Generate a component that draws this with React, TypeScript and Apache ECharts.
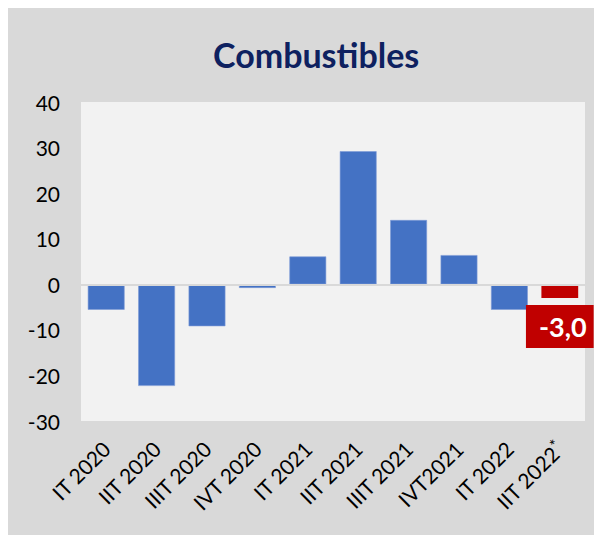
import React, { useEffect, useRef } from "react";
import * as echarts from "echarts";

const titleText = "Combustibles";
const categories = [
  "IT 2020",
  "IIT 2020",
  "IIIT 2020",
  "IVT 2020",
  "IT 2021",
  "IIT 2021",
  "IIIT 2021",
  "IVT2021",
  "IT 2022",
  "IIT 2022*",
];
const values = [-5.6, -22.3, -9.2, -0.8, 6.1, 29.2, 14.1, 6.4, -5.6, -3.0];
const highlightIndex = 9;
const yMin = -30;
const yMax = 40;
const yStep = 10;

const FONT = "Lato, 'Open Sans', sans-serif";

export default function App() {
  const ref = useRef<HTMLDivElement>(null);
  useEffect(() => {
    if (!ref.current) return;
    const chart = echarts.init(ref.current, null, { renderer: "svg" });
    const data = values.map((v, i) =>
      i === highlightIndex
        ? {
            value: v,
            itemStyle: { color: "#c00000", borderWidth: 0 },
            label: {
              show: true,
              position: "bottom",
              distance: 7,
              formatter: (p: any) => String(Number(p.value).toFixed(1)).replace(".", ","),
              backgroundColor: "#c00000",
              color: "#ffffff",
              fontFamily: FONT,
              fontWeight: "bold",
              fontSize: 27,
              lineHeight: 33,
              padding: [5, 7, 5, 13],
            },
          }
        : { value: v }
    );
    chart.setOption({
      animation: false,
      backgroundColor: "#d9d9d9",
      title: {
        text: titleText,
        left: 200,
        top: 24,
        textStyle: {
          fontFamily: FONT,
          fontWeight: "bold",
          fontSize: 34,
          color: "#0e2160",
        },
      },
      grid: {
        left: 73,
        right: 17,
        top: 94,
        bottom: 114,
        show: true,
        backgroundColor: "#f2f2f2",
        borderWidth: 0,
      },
      xAxis: {
        type: "category",
        data: categories,
        axisLine: { show: false },
        axisTick: { show: false },
        axisLabel: {
          rotate: 45,
          interval: 0,
          margin: 24,
          color: "#000000",
          fontFamily: FONT,
          fontSize: 21,
          formatter: (v: string) =>
            v.endsWith("*") ? `{a|${v.slice(0, -1)}}{s|*}` : `{a|${v}}`,
          rich: {
            a: { fontFamily: FONT, fontSize: 21, color: "#000000" },
            s: { fontFamily: FONT, fontSize: 16, color: "#000000", padding: [0, 0, 9, 0] },
          },
        },
      },
      yAxis: {
        type: "value",
        min: yMin,
        max: yMax,
        interval: yStep,
        splitLine: { show: false },
        axisLine: { show: false },
        axisTick: { show: false },
        axisLabel: {
          margin: 21,
          color: "#000000",
          fontFamily: FONT,
          fontSize: 21,
        },
      },
      series: [
        {
          type: "bar",
          data,
          barCategoryGap: "27%",
          itemStyle: { color: "#4472c4", borderColor: "#7d9bd6", borderWidth: 0.6 },
          markLine: {
            silent: true,
            symbol: "none",
            label: { show: false },
            lineStyle: { color: "#d9d9d9", width: 2, type: "solid" },
            data: [{ yAxis: 0 }],
          },
        },
      ],
    });
    return () => chart.dispose();
  }, []);
  return <div ref={ref} style={{ width: 594, height: 527 }} />;
}
